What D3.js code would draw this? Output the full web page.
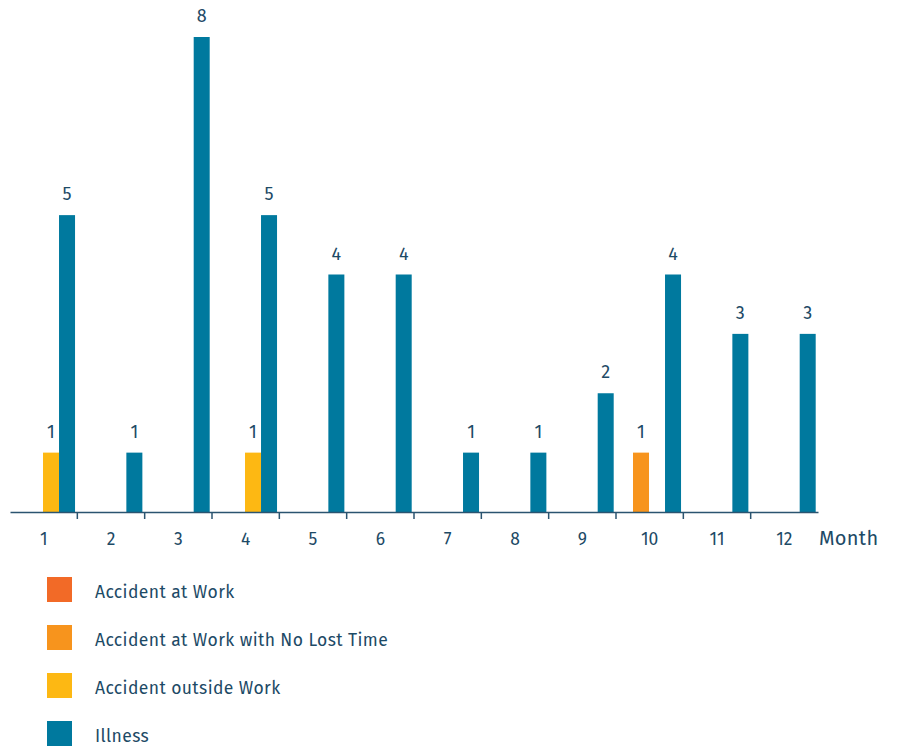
<!DOCTYPE html>
<html>
<head>
<meta charset="utf-8">
<script src="https://cdn.jsdelivr.net/npm/d3@7/dist/d3.min.js"></script>
<style>
  html, body { margin: 0; padding: 0; background: #fff; }
  svg text { font-family: "Fira Sans", "Open Sans", "Noto Sans", sans-serif; fill: #1d4a66; }
</style>
</head>
<body>
<svg id="chart" width="898" height="747"></svg>
<script>
// Monthly absence cases by cause
const months = ["1", "2", "3", "4", "5", "6", "7", "8", "9", "10", "11", "12"];
const seriesNames = ["Accident at Work", "Accident at Work with No Lost Time", "Accident outside Work", "Illness"];
const seriesColors = ["#f26a27", "#f7941d", "#fdb813", "#00799e"];
const accidentAtWork = [0, 0, 0, 0, 0, 0, 0, 0, 0, 0, 0, 0];
const accidentNoLostTime = [0, 0, 0, 0, 0, 0, 0, 0, 0, 1, 0, 0];
const accidentOutsideWork = [1, 0, 0, 1, 0, 0, 0, 0, 0, 0, 0, 0];
const illness = [5, 1, 8, 5, 4, 4, 1, 1, 2, 4, 3, 3];
const axisTitle = "Month";

const values = [accidentAtWork, accidentNoLostTime, accidentOutsideWork, illness];

const svg = d3.select("#chart");
const baseY = 512, topY = 37;
const x0 = d3.scaleBand().domain(months).range([10, 818]).padding(0);
const x1 = d3.scaleBand().domain(d3.range(seriesNames.length))
  .range([1, x0.bandwidth() - 2.3]).padding(0);
const y = d3.scaleLinear().domain([0, 8]).range([baseY, topY]);

// bars and value labels
const groups = svg.append("g").selectAll("g")
  .data(months).join("g")
  .attr("transform", d => `translate(${x0(d)},0)`);

groups.each(function (m, i) {
  const g = d3.select(this);
  values.forEach((arr, s) => {
    const v = arr[i];
    if (!v) return;
    g.append("rect")
      .attr("x", x1(s))
      .attr("y", y(v))
      .attr("width", x1.bandwidth())
      .attr("height", baseY - y(v))
      .attr("fill", seriesColors[s]);
    g.append("text")
      .attr("x", x1(s) + x1.bandwidth() / 2)
      .attr("y", y(v) - 15)
      .attr("text-anchor", "middle")
      .attr("font-size", 18)
      .text(v);
  });
});

// category axis
const axis = d3.axisBottom(x0).tickSize(0).tickPadding(0);
const axisG = svg.append("g").attr("transform", `translate(0,${baseY})`).call(axis);
axisG.select(".domain").attr("stroke", "#2b5470").attr("stroke-width", 1.5);
axisG.selectAll(".tick text")
  .attr("y", 33).attr("dy", null)
  .attr("font-size", 17.5).attr("fill", "#1d4a66")
  .attr("font-family", "'Fira Sans', 'Open Sans', 'Noto Sans', sans-serif");
// separator ticks between months
svg.append("g").selectAll("line")
  .data(months.slice(1)).join("line")
  .attr("x1", d => x0(d)).attr("x2", d => x0(d))
  .attr("y1", baseY).attr("y2", baseY + 7)
  .attr("stroke", "#2b5470").attr("stroke-width", 1.5);

svg.append("text")
  .attr("x", 819).attr("y", 545)
  .attr("font-size", 20)
  .attr("letter-spacing", 0.3)
  .text(axisTitle);

// legend
const legend = svg.append("g").selectAll("g")
  .data(seriesNames).join("g")
  .attr("transform", (d, i) => `translate(47,${577 + i * 48})`);
legend.append("rect").attr("width", 25).attr("height", 25)
  .attr("fill", (d, i) => seriesColors[i]);
legend.append("text").attr("x", 48).attr("y", 20.5)
  .attr("font-size", 17.5).attr("letter-spacing", 0.4).text(d => d);
</script>
</body>
</html>
